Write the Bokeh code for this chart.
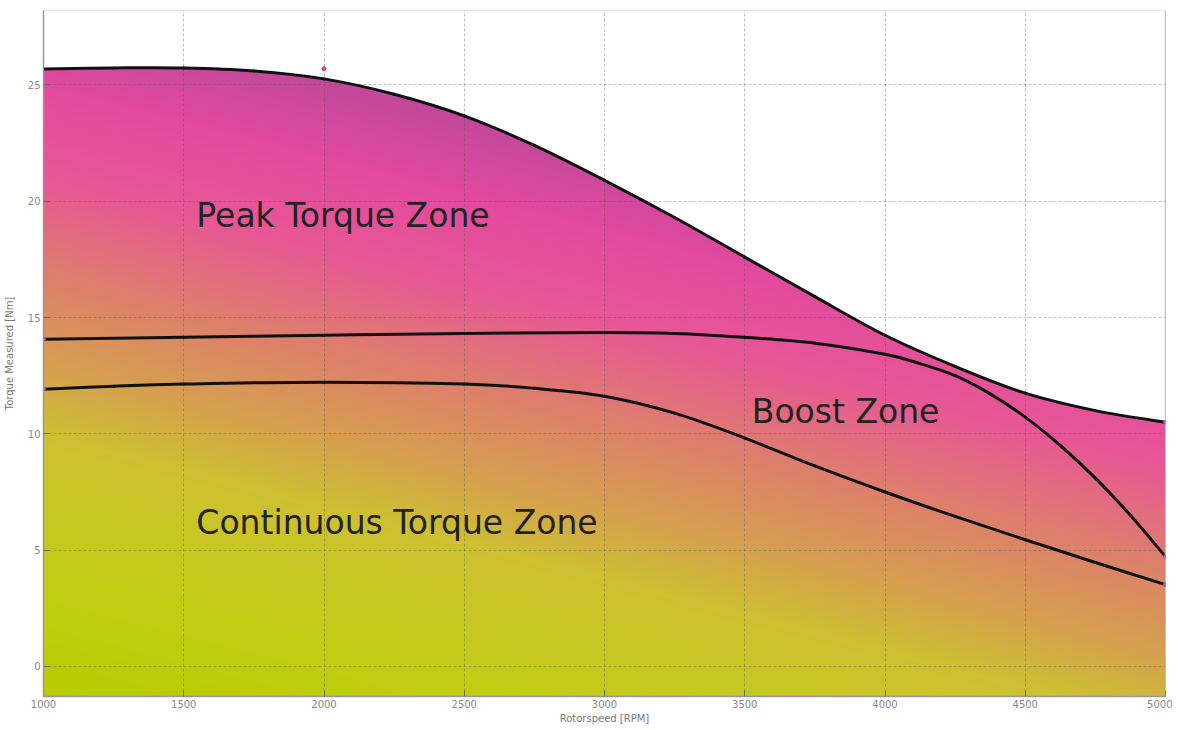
import numpy as np
from bokeh.plotting import figure
from bokeh.models import Range1d, Label, Span, FixedTicker
from bokeh.embed import file_html
from bokeh.resources import INLINE

# ---- data ----
peak_rpm = [1000, 1250, 1500, 1750, 2000, 2250, 2500, 2750, 3000, 3250, 3500, 3750, 4000, 4250, 4500, 4750, 5000]
peak_torque = [25.69, 25.73, 25.73, 25.6, 25.26, 24.6, 23.67, 22.4, 20.9, 19.3, 17.6, 15.9, 14.24, 12.9, 11.75, 11.0, 10.5]

boost_rpm = [1000, 1500, 2000, 2500, 3000, 3250, 3500, 3750, 4000, 4125, 4250, 4375, 4500, 4625, 4750, 4875, 5000]
boost_torque = [14.07, 14.15, 14.24, 14.32, 14.36, 14.32, 14.15, 13.9, 13.42, 13.02, 12.5, 11.72, 10.72, 9.5, 8.1, 6.5, 4.72]

cont_rpm = [1000, 1250, 1500, 2000, 2500, 2750, 3000, 3250, 3500, 3750, 4000, 4250, 4500, 4750, 5000]
cont_torque = [11.92, 12.05, 12.14, 12.22, 12.14, 11.96, 11.62, 10.89, 9.82, 8.62, 7.5, 6.45, 5.45, 4.47, 3.52]

marker_rpm = [1000, 1000, 2000, 5000, 5000, 5000]
marker_torque = [14.07, 11.92, 25.7, 10.5, 4.72, 3.52]

zone_text = ["Peak Torque Zone", "Boost Zone", "Continuous Torque Zone"]
zone_rpm = [1545, 3525, 1545]
zone_torque = [19.4, 10.95, 6.2]

x_ticks = [1000, 1500, 2000, 2500, 3000, 3500, 4000, 4500, 5000]
y_ticks = [0, 5, 10, 15, 20, 25]

X0, X1 = 1000, 5000
Y0, Y1 = -1.29, 28.2

p = figure(width=1172, height=726, output_backend="svg", toolbar_location=None,
           x_range=Range1d(X0, X1), y_range=Range1d(Y0, Y1),
           min_border_left=43, min_border_right=7, min_border_top=10, min_border_bottom=27)
p.outline_line_color = None
p.background_fill_color = "white"

# ---- gradient background (style only) ----
nx, ny = 400, 300
gx = np.linspace(X0, X1, nx)
gy = np.linspace(Y0, Y1, ny)
GX, GY = np.meshgrid(gx, gy)
t = GY + 3.1 * (GX - 1000) / 1000.0
stops_t = [-2, 4, 10, 13, 17, 21, 25, 29]
stops_r = [184, 194, 206, 214, 222, 232, 226, 188]
stops_g = [204, 206, 192, 160, 126, 88, 74, 72]
stops_b = [0, 22, 50, 80, 110, 150, 158, 154]
img = np.empty((ny, nx), dtype=np.uint32)
view = img.view(dtype=np.uint8).reshape((ny, nx, 4))
view[:, :, 0] = np.interp(t, stops_t, stops_r).astype(np.uint8)
view[:, :, 1] = np.interp(t, stops_t, stops_g).astype(np.uint8)
view[:, :, 2] = np.interp(t, stops_t, stops_b).astype(np.uint8)
view[:, :, 3] = 255
ir = p.image_rgba(image=[img], x=X0, y=Y0, dw=X1 - X0, dh=Y1 - Y0)
ir.level = "image"

# white area above the peak curve
wr = p.patch(peak_rpm + [X1, X0], peak_torque + [Y1, Y1], fill_color="white", line_color=None)
wr.level = "image"

# ---- grid ----
p.xaxis.ticker = FixedTicker(ticks=x_ticks)
p.yaxis.ticker = FixedTicker(ticks=y_ticks)
for g in (p.xgrid, p.ygrid):
    g.grid_line_color = "#555555"
    g.grid_line_alpha = 0.38
    g.grid_line_dash = "3 2"
    g.grid_line_width = 1

# right border
p.add_layout(Span(location=X1, dimension="height", line_color="#999999", line_width=1.2))


# ---- smooth curves through the read points (Catmull-Rom as cubic Beziers) ----
def smooth_curve(xs, ys):
    n = len(xs)
    x0, y0, x1, y1, cx0, cy0, cx1, cy1 = [], [], [], [], [], [], [], []
    for i in range(n - 1):
        pm = max(i - 1, 0)
        pp = min(i + 2, n - 1)
        x0.append(xs[i]); y0.append(ys[i])
        x1.append(xs[i + 1]); y1.append(ys[i + 1])
        cx0.append(xs[i] + (xs[i + 1] - xs[pm]) / 6.0)
        cy0.append(ys[i] + (ys[i + 1] - ys[pm]) / 6.0)
        cx1.append(xs[i + 1] - (xs[pp] - xs[i]) / 6.0)
        cy1.append(ys[i + 1] - (ys[pp] - ys[i]) / 6.0)
    p.bezier(x0=x0, y0=y0, x1=x1, y1=y1, cx0=cx0, cy0=cy0, cx1=cx1, cy1=cy1,
             line_color="#111111", line_width=3, line_cap="round")


smooth_curve(peak_rpm, peak_torque)
smooth_curve(boost_rpm, boost_torque)
smooth_curve(cont_rpm, cont_torque)
p.scatter(marker_rpm, marker_torque, size=4, color="#e0408a")

# ---- zone labels ----
for txt, xx, yy in zip(zone_text, zone_rpm, zone_torque):
    p.add_layout(Label(x=xx, y=yy, text=txt, text_font="DejaVu Sans", text_font_size="33px",
                       text_color="#222222", text_baseline="alphabetic", text_align="left"))

# ---- axes ----
p.xaxis.axis_label = "Rotorspeed [RPM]"
p.yaxis.axis_label = "Torque Measured [Nm]"
for ax in (p.xaxis, p.yaxis):
    ax.axis_label_text_font = "DejaVu Sans"
    ax.axis_label_text_font_size = "10px"
    ax.axis_label_text_font_style = "normal"
    ax.axis_label_text_color = "#777777"
    ax.major_label_text_font = "DejaVu Sans"
    ax.major_label_text_font_size = "10px"
    ax.major_label_text_color = "#888888"
    ax.axis_line_color = "#999999"
    ax.axis_line_width = 1.5
    ax.major_tick_in = 6
    ax.major_tick_out = 0
    ax.major_tick_line_color = "#666666"
    ax.minor_tick_line_color = None
    ax.major_label_standoff = 3
p.xaxis.axis_label_standoff = 2
p.yaxis.axis_label_standoff = 10

open("out.html", "w").write(file_html(p, INLINE))
